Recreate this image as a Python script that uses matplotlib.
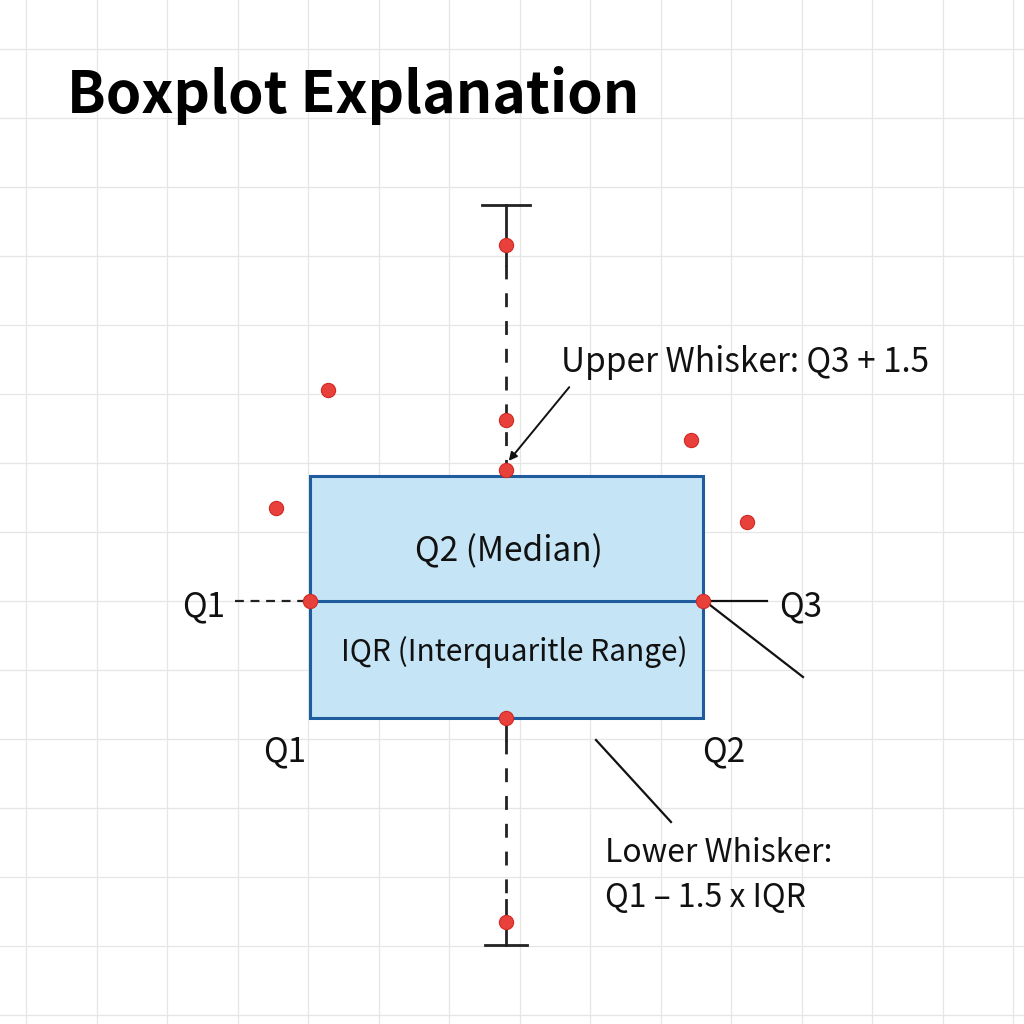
import matplotlib.pyplot as plt
from matplotlib.patches import Rectangle

plt.rcParams['font.family'] = ['Noto Sans CJK SC', 'DejaVu Sans']

# diagram values (canvas units, y grows downwards like the picture)
box_x = [310, 703]          # Q1 / Q3 edges of the box
box_y = [476, 718]          # top / bottom of the box
median_y = 601
center_x = 506
cap_top = 205
cap_bottom = 945
cap_half = 24

# red sample points
pts_x = [506, 506, 506, 328, 276, 691, 747, 310, 703, 506, 506]
pts_y = [245, 420, 470, 390, 508, 440, 522, 601, 601, 718, 922]

grid_x = [26 + 70.5 * k for k in range(15)]
grid_y = [49 + 69 * k for k in range(15)]

TXT = '#111111'
BLUE = '#1f5c9e'
FILL = '#c5e4f5'
RED = '#e8403a'

fig = plt.figure(figsize=(10.24, 10.24), dpi=100)
ax = fig.add_axes([0, 0, 1, 1])
ax.set_xlim(0, 1024)
ax.set_ylim(1024, 0)
ax.set_xticks(grid_x)
ax.set_yticks(grid_y)
ax.tick_params(length=0, labelbottom=False, labelleft=False)
ax.grid(True, color='#e6e6e6', lw=0.9)
for s in ax.spines.values():
    s.set_visible(False)
ax.set_axisbelow(True)

# whiskers: solid near caps, dashed in between
lc = '#222222'
ax.plot([center_x, center_x], [cap_top, 265], color=lc, lw=2, zorder=2)
ax.plot([center_x, center_x], [265, box_y[0]], color=lc, lw=2, dashes=(5, 5), zorder=2)
ax.plot([center_x, center_x], [box_y[1], 740], color=lc, lw=2, zorder=2)
ax.plot([center_x, center_x], [740, 900], color=lc, lw=2, dashes=(5, 5), zorder=2)
ax.plot([center_x, center_x], [900, cap_bottom], color=lc, lw=2, zorder=2)
ax.plot([center_x - cap_half, center_x + cap_half], [cap_top, cap_top],
        color=lc, lw=2, zorder=2)
ax.plot([center_x - cap_half + 3, center_x + cap_half - 3], [cap_bottom, cap_bottom],
        color=lc, lw=2, zorder=2)

# box + median
ax.add_patch(Rectangle((box_x[0], box_y[0]), box_x[1] - box_x[0], box_y[1] - box_y[0],
                       facecolor=FILL, edgecolor=BLUE, lw=2.2, zorder=3))
ax.plot(box_x, [median_y, median_y], color=BLUE, lw=2.2, zorder=3)

# Q1 dashed leader, Q3 leaders
ax.plot([235, 305], [median_y, median_y], color=lc, lw=1.6, dashes=(4, 3), zorder=2)
ax.plot([710, 767], [median_y, median_y], color='#111111', lw=1.6, zorder=2)
ax.plot([710, 803], [605, 677], color='#111111', lw=1.6, zorder=2)
ax.plot([596, 671], [740, 822], color='#111111', lw=1.6, zorder=2)

ax.annotate('', xy=(507, 463), xytext=(571, 385),
            arrowprops=dict(arrowstyle='-|>', color='#111111', lw=1.4,
                            mutation_scale=12), zorder=4)

ax.scatter(pts_x, pts_y, s=105, color=RED, edgecolor='#d02a24', lw=0.8, zorder=5)

# texts
ax.text(67, 113, 'Boxplot Explanation', fontsize=41, fontweight='bold',
        color='black', va='baseline')
ax.text(561, 372, 'Upper Whisker: Q3 + 1.5', fontsize=24, color=TXT, va='baseline')
ax.text(center_x + 3, 552, 'Q2 (Median)', fontsize=24, color=TXT,
        ha='center', va='center')
ax.text(514, 652, 'IQR (Interquaritle Range)', fontsize=21.5, color=TXT,
        ha='center', va='center')
ax.text(204, 616, 'Q1', fontsize=24, color=TXT, ha='center', va='baseline')
ax.text(801, 616, 'Q3', fontsize=24, color=TXT, ha='center', va='baseline')
ax.text(285, 761, 'Q1', fontsize=24, color=TXT, ha='center', va='baseline')
ax.text(724, 761, 'Q2', fontsize=24, color=TXT, ha='center', va='baseline')
ax.text(605, 862, 'Lower Whisker:', fontsize=23, color=TXT, va='baseline')
ax.text(605, 907, 'Q1 \u2013 1.5 x IQR', fontsize=23, color=TXT, va='baseline')

fig.savefig('out.png', dpi=100)
